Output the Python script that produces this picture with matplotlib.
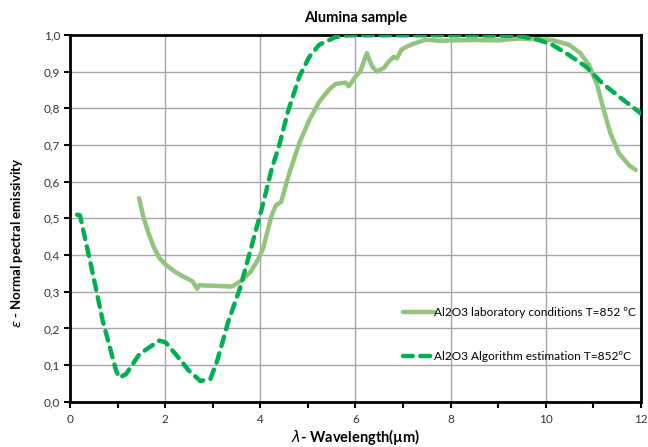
import numpy as np
import matplotlib
matplotlib.use("Agg")
import matplotlib.pyplot as plt
from matplotlib.ticker import MultipleLocator, FuncFormatter

plt.rcParams['font.family'] = ['Lato', 'DejaVu Sans']

# =========================
# DATA
# =========================
lab_wl = [1.45, 1.55, 1.65, 1.75, 1.875, 2.0, 2.2, 2.4, 2.56, 2.62, 2.67, 2.72, 2.85,
          3.1, 3.4, 3.6, 3.8, 3.96, 4.06, 4.23, 4.33, 4.44, 4.61, 4.82, 5.03, 5.24,
          5.44, 5.58, 5.79, 5.86, 6.0, 6.1, 6.24, 6.35, 6.45, 6.6, 6.7, 6.8, 6.87,
          6.97, 7.08, 7.2, 7.48, 7.74, 8.09, 8.5, 9.0, 9.44, 10.14, 10.49, 10.73,
          10.91, 11.08, 11.22, 11.36, 11.54, 11.75, 11.89]
lab_eps = [0.555, 0.50, 0.46, 0.425, 0.393, 0.375, 0.355, 0.34, 0.33, 0.32, 0.308, 0.318, 0.317,
           0.316, 0.314, 0.33, 0.355, 0.39, 0.418, 0.505, 0.536, 0.545, 0.623, 0.705, 0.768,
           0.818, 0.85, 0.866, 0.87, 0.86, 0.886, 0.90, 0.95, 0.914, 0.90, 0.91, 0.927,
           0.94, 0.936, 0.96, 0.968, 0.975, 0.987, 0.984, 0.985, 0.986, 0.985, 0.99, 0.986,
           0.973, 0.95, 0.918, 0.864, 0.795, 0.732, 0.677, 0.645, 0.632]

alg_wl = [0.15, 0.21, 0.45, 0.69, 0.97, 1.04, 1.18, 1.46, 1.875, 2.01, 2.22, 2.5, 2.74,
          2.95, 3.09, 3.33, 3.58, 3.85, 4.06, 4.23, 4.4, 4.58, 4.82, 5.03, 5.24, 5.58,
          5.86, 7.0, 8.0, 9.0, 9.44, 9.86, 10.14, 10.49, 10.84, 11.19, 11.54, 12.0]
alg_eps = [0.51, 0.508, 0.367, 0.22, 0.085, 0.066, 0.076, 0.13, 0.167, 0.162, 0.13, 0.085, 0.057,
           0.062, 0.11, 0.22, 0.312, 0.44, 0.54, 0.63, 0.70, 0.79, 0.886, 0.94, 0.973, 0.994,
           0.999, 0.999, 0.999, 0.998, 0.997, 0.986, 0.973, 0.945, 0.914, 0.868, 0.832, 0.786]

LAB_LABEL = "Al2O3 laboratory conditions T=852 ºC"
ALG_LABEL = "Al2O3 Algorithm estimation T=852ºC"

# =========================
# PLOT
# =========================
fig = plt.figure(figsize=(6.48, 4.47), dpi=100)
ax = fig.add_axes([0.108, 0.101, 0.881, 0.821])

ax.plot(lab_wl, lab_eps, color="#93c47d", lw=3.2, solid_capstyle="round",
        label=LAB_LABEL, zorder=3)
ax.plot(alg_wl, alg_eps, color="#00b050", lw=3.2, dashes=(2.2, 1.7),
        dash_capstyle="round", label=ALG_LABEL, zorder=4)

ax.set_xlim(0, 12)
ax.set_ylim(0, 1.0)
ax.xaxis.set_major_locator(MultipleLocator(2))
ax.xaxis.set_minor_locator(MultipleLocator(1))
ax.yaxis.set_major_locator(MultipleLocator(0.1))
ax.yaxis.set_major_formatter(FuncFormatter(lambda v, p: f"{v:.1f}".replace(".", ",")))

ax.grid(True, which="major", color="#a6a6a6", lw=1.0)
ax.set_axisbelow(True)
for s in ax.spines.values():
    s.set_linewidth(2.0)
    s.set_color("black")
ax.tick_params(which="both", direction="out", length=4, width=1.5, labelsize=8.5,
               colors="black", labelcolor="#333333", pad=3)
ax.tick_params(axis="x", pad=5)

ax.set_title("Alumina sample", fontsize=10.5, fontweight="bold", pad=9)
ax.set_xlabel(r"$\lambda$" + "- Wavelength(µm)", fontsize=10.5, fontweight="bold", labelpad=1)
ax.set_ylabel(r"$\varepsilon$" + " - Normal pectral emissivity", fontsize=9.5,
              fontweight="bold", labelpad=12)
ax.yaxis.set_label_coords(-0.078, 0.434)

ax.legend(loc="lower right", bbox_to_anchor=(1.01, 0.08), frameon=False,
          fontsize=8.6, handlelength=2.6, handletextpad=0.0, labelspacing=2.7)

fig.savefig("out.png", dpi=100)
